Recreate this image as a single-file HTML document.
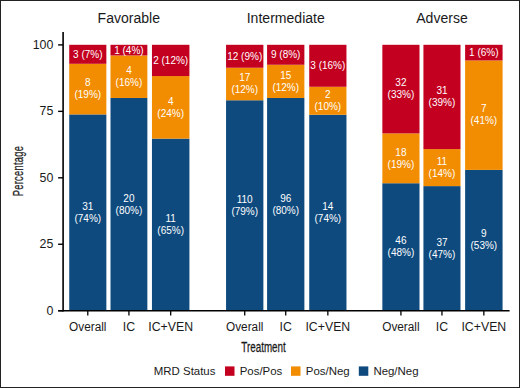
<!DOCTYPE html>
<html><head><meta charset="utf-8"><style>
html,body{margin:0;padding:0;background:#fff;}
body{width:520px;height:388px;overflow:hidden;}
svg{display:block;}
text{font-family:"Liberation Sans",sans-serif;}
.bl{font-size:10.0px;fill:#fff;text-anchor:middle;}
.tk{font-size:12.4px;fill:#1a1a1a;}
.xt{font-size:12.3px;fill:#1a1a1a;}
.ti{font-size:14.05px;fill:#1a1a1a;}
.lg{font-size:11.45px;fill:#1a1a1a;}
.ax{font-size:14.5px;fill:#1a1a1a;stroke:#1a1a1a;stroke-width:0.25px;}
</style></head><body>
<svg width="520" height="388" viewBox="0 0 520 388">
<rect x="0" y="0" width="520" height="388" fill="#fff"/>
<rect x="69.23" y="114.41" width="37.12" height="196.19" fill="#0E4A7E"/>
<rect x="69.23" y="63.79" width="37.12" height="50.63" fill="#F28C00"/>
<rect x="69.23" y="44.80" width="37.12" height="18.99" fill="#C3001F"/>
<rect x="110.50" y="97.96" width="36.85" height="212.64" fill="#0E4A7E"/>
<rect x="110.50" y="55.43" width="36.85" height="42.53" fill="#F28C00"/>
<rect x="110.50" y="44.80" width="36.85" height="10.63" fill="#C3001F"/>
<rect x="151.96" y="138.61" width="37.46" height="171.99" fill="#0E4A7E"/>
<rect x="151.96" y="76.07" width="37.46" height="62.54" fill="#F28C00"/>
<rect x="151.96" y="44.80" width="37.46" height="31.27" fill="#C3001F"/>
<rect x="226.05" y="100.25" width="37.33" height="210.35" fill="#0E4A7E"/>
<rect x="226.05" y="67.75" width="37.33" height="32.51" fill="#F28C00"/>
<rect x="226.05" y="44.80" width="37.33" height="22.95" fill="#C3001F"/>
<rect x="267.08" y="97.96" width="37.30" height="212.64" fill="#0E4A7E"/>
<rect x="267.08" y="64.74" width="37.30" height="33.22" fill="#F28C00"/>
<rect x="267.08" y="44.80" width="37.30" height="19.94" fill="#C3001F"/>
<rect x="309.23" y="114.75" width="37.23" height="195.85" fill="#0E4A7E"/>
<rect x="309.23" y="86.77" width="37.23" height="27.98" fill="#F28C00"/>
<rect x="309.23" y="44.80" width="37.23" height="41.97" fill="#C3001F"/>
<rect x="382.35" y="183.24" width="37.15" height="127.36" fill="#0E4A7E"/>
<rect x="382.35" y="133.40" width="37.15" height="49.84" fill="#F28C00"/>
<rect x="382.35" y="44.80" width="37.15" height="88.60" fill="#C3001F"/>
<rect x="423.42" y="186.11" width="37.08" height="124.49" fill="#0E4A7E"/>
<rect x="423.42" y="149.10" width="37.08" height="37.01" fill="#F28C00"/>
<rect x="423.42" y="44.80" width="37.08" height="104.30" fill="#C3001F"/>
<rect x="465.12" y="169.88" width="37.46" height="140.72" fill="#0E4A7E"/>
<rect x="465.12" y="60.44" width="37.46" height="109.45" fill="#F28C00"/>
<rect x="465.12" y="44.80" width="37.46" height="15.64" fill="#C3001F"/>
<text x="87.79" y="209.76" class="bl">31</text>
<text x="87.79" y="221.76" class="bl">(74%)</text>
<text x="87.79" y="86.35" class="bl">8</text>
<text x="87.79" y="98.35" class="bl">(19%)</text>
<text x="87.79" y="57.84" class="bl">3 (7%)</text>
<text x="128.93" y="201.53" class="bl">20</text>
<text x="128.93" y="213.53" class="bl">(80%)</text>
<text x="128.93" y="73.95" class="bl">4</text>
<text x="128.93" y="85.95" class="bl">(16%)</text>
<text x="128.93" y="53.67" class="bl">1 (4%)</text>
<text x="170.69" y="221.86" class="bl">11</text>
<text x="170.69" y="233.86" class="bl">(65%)</text>
<text x="170.69" y="104.59" class="bl">4</text>
<text x="170.69" y="116.59" class="bl">(24%)</text>
<text x="170.69" y="63.99" class="bl">2 (12%)</text>
<text x="244.72" y="202.68" class="bl">110</text>
<text x="244.72" y="214.68" class="bl">(79%)</text>
<text x="244.72" y="81.25" class="bl">17</text>
<text x="244.72" y="93.25" class="bl">(12%)</text>
<text x="244.72" y="59.82" class="bl">12 (9%)</text>
<text x="285.73" y="201.53" class="bl">96</text>
<text x="285.73" y="213.53" class="bl">(80%)</text>
<text x="285.73" y="78.60" class="bl">15</text>
<text x="285.73" y="90.60" class="bl">(12%)</text>
<text x="285.73" y="58.32" class="bl">9 (8%)</text>
<text x="327.85" y="209.92" class="bl">14</text>
<text x="327.85" y="221.92" class="bl">(74%)</text>
<text x="327.85" y="98.01" class="bl">2</text>
<text x="327.85" y="110.01" class="bl">(10%)</text>
<text x="327.85" y="69.33" class="bl">3 (16%)</text>
<text x="400.93" y="244.17" class="bl">46</text>
<text x="400.93" y="256.17" class="bl">(48%)</text>
<text x="400.93" y="155.57" class="bl">18</text>
<text x="400.93" y="167.57" class="bl">(19%)</text>
<text x="400.93" y="86.35" class="bl">32</text>
<text x="400.93" y="98.35" class="bl">(33%)</text>
<text x="441.96" y="245.61" class="bl">37</text>
<text x="441.96" y="257.61" class="bl">(47%)</text>
<text x="441.96" y="164.86" class="bl">11</text>
<text x="441.96" y="176.86" class="bl">(14%)</text>
<text x="441.96" y="94.20" class="bl">31</text>
<text x="441.96" y="106.20" class="bl">(39%)</text>
<text x="483.85" y="237.49" class="bl">9</text>
<text x="483.85" y="249.49" class="bl">(53%)</text>
<text x="483.85" y="112.41" class="bl">7</text>
<text x="483.85" y="124.41" class="bl">(41%)</text>
<text x="483.85" y="56.17" class="bl">1 (6%)</text>
<line x1="63.1" y1="31.9" x2="63.1" y2="311.5" stroke="#000" stroke-width="1.6"/>
<line x1="58.2" y1="310.70" x2="509.6" y2="310.70" stroke="#000" stroke-width="1.6"/>
<line x1="58.1" y1="310.70" x2="63" y2="310.70" stroke="#000" stroke-width="1.4"/>
<text x="53.4" y="314.50" class="tk" text-anchor="end">0</text>
<line x1="58.1" y1="244.25" x2="63" y2="244.25" stroke="#000" stroke-width="1.4"/>
<text x="53.4" y="248.05" class="tk" text-anchor="end">25</text>
<line x1="58.1" y1="177.80" x2="63" y2="177.80" stroke="#000" stroke-width="1.4"/>
<text x="53.4" y="181.60" class="tk" text-anchor="end">50</text>
<line x1="58.1" y1="111.35" x2="63" y2="111.35" stroke="#000" stroke-width="1.4"/>
<text x="53.4" y="115.15" class="tk" text-anchor="end">75</text>
<line x1="58.1" y1="44.90" x2="63" y2="44.90" stroke="#000" stroke-width="1.4"/>
<text x="53.4" y="48.70" class="tk" text-anchor="end">100</text>
<line x1="87.79" y1="310.60" x2="87.79" y2="315.5" stroke="#000" stroke-width="1.3"/>
<text x="87.79" y="330.8" class="xt" text-anchor="middle" textLength="37.4" lengthAdjust="spacingAndGlyphs">Overall</text>
<line x1="128.93" y1="310.60" x2="128.93" y2="315.5" stroke="#000" stroke-width="1.3"/>
<text x="128.93" y="330.8" class="xt" text-anchor="middle">IC</text>
<line x1="170.69" y1="310.60" x2="170.69" y2="315.5" stroke="#000" stroke-width="1.3"/>
<text x="170.69" y="330.8" class="xt" text-anchor="middle">IC+VEN</text>
<line x1="244.72" y1="310.60" x2="244.72" y2="315.5" stroke="#000" stroke-width="1.3"/>
<text x="244.72" y="330.8" class="xt" text-anchor="middle" textLength="37.4" lengthAdjust="spacingAndGlyphs">Overall</text>
<line x1="285.73" y1="310.60" x2="285.73" y2="315.5" stroke="#000" stroke-width="1.3"/>
<text x="285.73" y="330.8" class="xt" text-anchor="middle">IC</text>
<line x1="327.85" y1="310.60" x2="327.85" y2="315.5" stroke="#000" stroke-width="1.3"/>
<text x="327.85" y="330.8" class="xt" text-anchor="middle">IC+VEN</text>
<line x1="400.93" y1="310.60" x2="400.93" y2="315.5" stroke="#000" stroke-width="1.3"/>
<text x="400.93" y="330.8" class="xt" text-anchor="middle" textLength="37.4" lengthAdjust="spacingAndGlyphs">Overall</text>
<line x1="441.96" y1="310.60" x2="441.96" y2="315.5" stroke="#000" stroke-width="1.3"/>
<text x="441.96" y="330.8" class="xt" text-anchor="middle">IC</text>
<line x1="483.85" y1="310.60" x2="483.85" y2="315.5" stroke="#000" stroke-width="1.3"/>
<text x="483.85" y="330.8" class="xt" text-anchor="middle">IC+VEN</text>
<text x="128.82" y="22.9" class="ti" text-anchor="middle">Favorable</text>
<text x="285.75" y="22.9" class="ti" text-anchor="middle">Intermediate</text>
<text x="441.97" y="22.9" class="ti" text-anchor="middle">Adverse</text>
<text class="ax" transform="translate(241.3,351.8) scale(0.68,1)">Treatment</text>
<text class="ax" transform="translate(23.15,196.3) rotate(-90) scale(0.665,1)" style="font-size:13.9px;letter-spacing:0.5px">Percentage</text>
<text x="153.8" y="374.6" class="lg">MRD Status</text>
<rect x="225" y="366.4" width="9.5" height="9.4" fill="#C3001F"/>
<text x="239.7" y="374.6" class="lg">Pos/Pos</text>
<rect x="291" y="366.4" width="9.5" height="9.4" fill="#F28C00"/>
<text x="305.8" y="374.6" class="lg">Pos/Neg</text>
<rect x="358.8" y="366.4" width="9.5" height="9.4" fill="#0E4A7E"/>
<text x="373.4" y="374.6" class="lg">Neg/Neg</text>
<rect x="0.5" y="0.5" width="519" height="387" fill="none" stroke="#222" stroke-width="1"/>
</svg>
</body></html>
